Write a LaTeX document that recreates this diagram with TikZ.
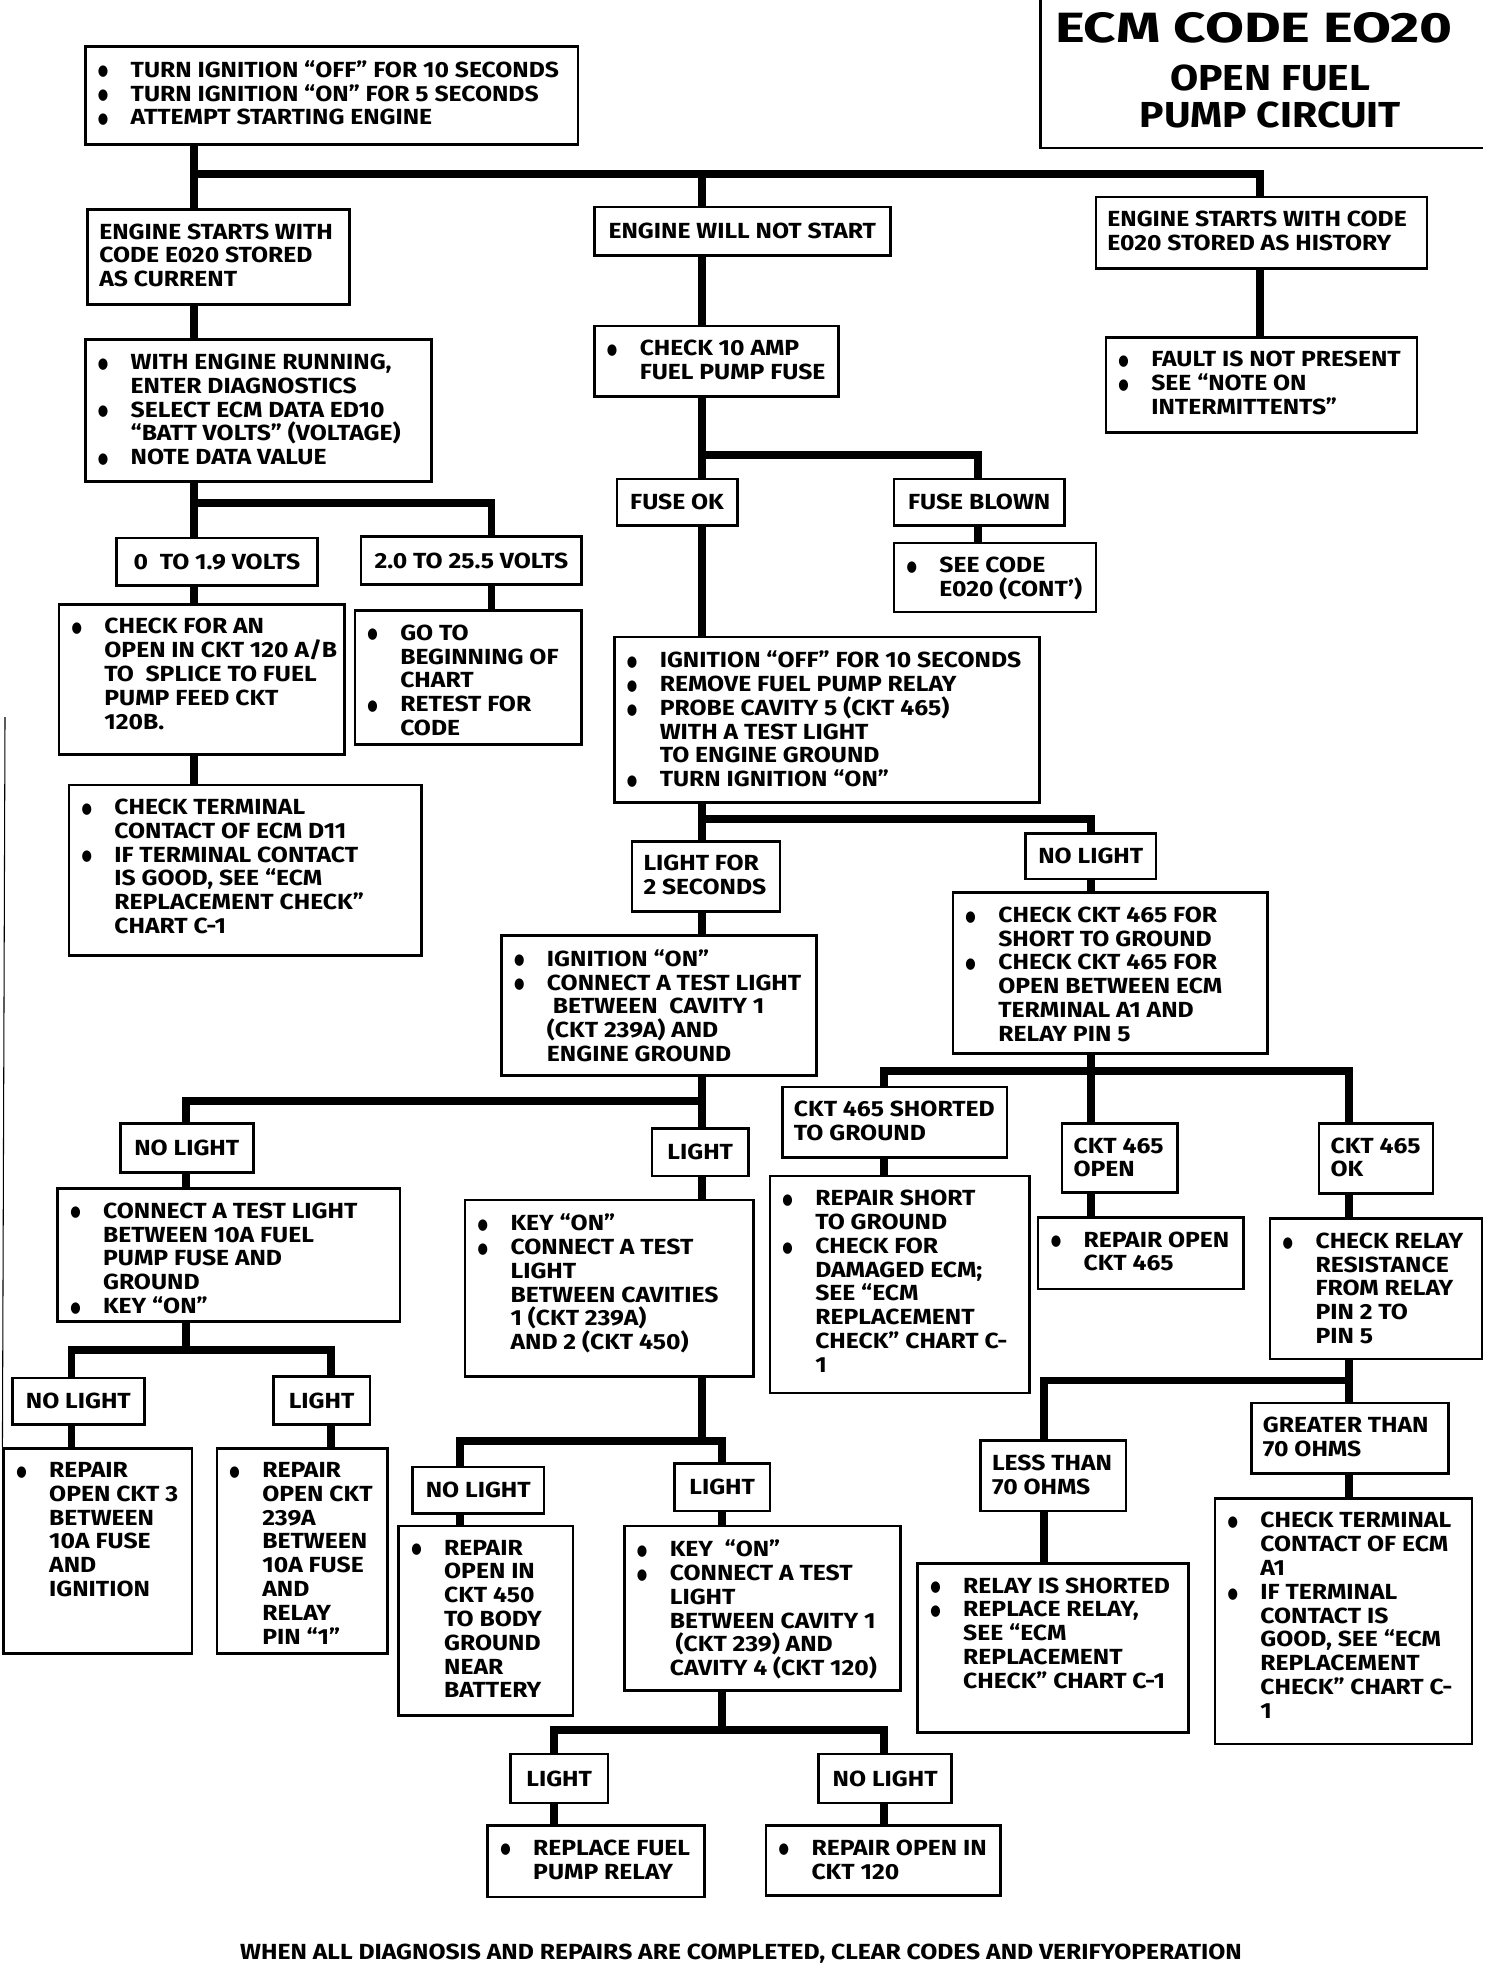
\documentclass[tikz,border=0pt]{standalone}
\usepackage{fontspec}
\setmainfont{Fira Sans}[FakeStretch=1.13]
\newfontfamily\dotfont{DejaVu Sans}
\usepackage{tikz}
\usetikzlibrary{fit}
\newcommand{\ecmfont}{\fontsize{12.4}{13.5}\selectfont\bfseries}
\newcommand{\ecmtitlefont}{\fontsize{24}{26}\selectfont\bfseries}
\newcommand{\ecmsubfont}{\fontsize{20.5}{21.3}\selectfont\bfseries}
\newcommand{\bitem}{\makebox[0.675cm][l]{\hspace{0.02cm}\raisebox{0.06em}{\scalebox{0.8}[1]{\dotfont\fontsize{8.5}{8.5}\selectfont ●}}}}
\newcommand{\bcont}{\hspace*{0.675cm}}
\tikzset{
  chart box/.style={draw,line width=1.5pt,inner sep=0pt},
  tag text/.style={label={[font=\ecmfont,inner sep=0pt]center:{#1}}},
  box text/.style={anchor=north west,align=left,inner xsep=0.25cm,inner ysep=0.3cm,font=\ecmfont},
  link/.style={line width=4.5pt}
}

\begin{document}
\begin{tikzpicture}[x=0.025cm,y=-0.025cm]
\fill[white] (0,0) rectangle (1200,1568);
\useasboundingbox (0,0) rectangle (1200,1568);

% title
\draw[line width=1.5pt] (830,0) -- (830,118) -- (1183,118);
\node[font=\ecmtitlefont] (title) at (1000,22) {\scalebox{1.18}[1]{ECM CODE EO20}};
\node[font=\ecmsubfont,align=center] (subtitle) at (1013,77) {OPEN FUEL\\PUMP CIRCUIT};

% boxes
\node[chart box,fit={(68,37) (461,115)},label={[box text]north west:{\bitem TURN IGNITION ``OFF'' FOR 10 SECONDS\\\bitem TURN IGNITION ``ON'' FOR 5 SECONDS\\\bitem ATTEMPT STARTING ENGINE}}] (start) {};
\node[chart box,fit={(70,167) (279,243)},label={[box text]north west:{ENGINE STARTS WITH\\CODE E020 STORED\\AS CURRENT}}] (current) {};
\node[chart box,fit={(474,165) (710,204)},tag text={ENGINE WILL NOT START}] (nostart) {};
\node[chart box,fit={(874,157) (1138,214)},label={[box text]north west:{ENGINE STARTS WITH CODE\\E020 STORED AS HISTORY}}] (history) {};
\node[chart box,fit={(68,271) (344,384)},label={[box text]north west:{\bitem WITH ENGINE RUNNING,\\\bcont ENTER DIAGNOSTICS\\\bitem SELECT ECM DATA ED10\\\bcont ``BATT VOLTS'' (VOLTAGE)\\\bitem NOTE DATA VALUE}}] (diag) {};
\node[chart box,fit={(474,260) (669,316)},label={[box text]north west:{\bitem CHECK 10 AMP\\\bcont FUEL PUMP FUSE}}] (fusecheck) {};
\node[chart box,fit={(882,269) (1130,345)},label={[box text]north west:{\bitem FAULT IS NOT PRESENT\\\bitem SEE ``NOTE ON\\\bcont INTERMITTENTS''}}] (intermit) {};
\node[chart box,fit={(93,429) (253,467)},tag text={0~~TO 1.9 VOLTS}] (lowvolt) {};
\node[chart box,fit={(288,428) (464,466)},tag text={2.0 TO 25.5 VOLTS}] (highvolt) {};
\node[chart box,fit={(492,382) (588,419)},tag text={FUSE OK}] (fuseok) {};
\node[chart box,fit={(713,382) (849,419)},tag text={FUSE BLOWN}] (fuseblown) {};
\node[chart box,fit={(713,433) (874,488)},label={[box text]north west:{\bitem SEE CODE\\\bcont E020 (CONT')}}] (seecode) {};
\node[chart box,fit={(47,482) (275,602)},label={[box text]north west:{\bitem CHECK FOR AN\\\bcont OPEN IN CKT 120 A/B\\\bcont TO~ SPLICE TO FUEL\\\bcont PUMP FEED CKT\\\bcont 120B.}}] (openab) {};
\node[chart box,fit={(283,487) (464,594)},label={[box text]north west:{\bitem GO TO\\\bcont BEGINNING OF\\\bcont CHART\\\bitem RETEST FOR\\\bcont CODE}}] (retest) {};
\node[chart box,fit={(55,626) (336,762)},label={[box text]north west:{\bitem CHECK TERMINAL\\\bcont CONTACT OF ECM D11\\\bitem IF TERMINAL CONTACT\\\bcont IS GOOD, SEE ``ECM\\\bcont REPLACEMENT CHECK''\\\bcont CHART C-1}}] (termdeleven) {};
\node[chart box,fit={(490,508) (829,640)},label={[box text]north west:{\bitem IGNITION ``OFF'' FOR 10 SECONDS\\\bitem REMOVE FUEL PUMP RELAY\\\bitem PROBE CAVITY 5 (CKT 465)\\\bcont WITH A TEST LIGHT\\\bcont TO ENGINE GROUND\\\bitem TURN IGNITION ``ON''}}] (proberelay) {};
\node[chart box,fit={(504,671) (622,727)},label={[box text]north west:{LIGHT FOR\\2 SECONDS}}] (lighttwo) {};
\node[chart box,fit={(818,665) (922,701)},tag text={NO LIGHT}] (nolighta) {};
\node[chart box,fit={(400,746) (651,858)},label={[box text]north west:{\bitem IGNITION ``ON''\\\bitem CONNECT A TEST LIGHT\\\bcont ~BETWEEN~ CAVITY 1\\\bcont (CKT 239A) AND\\\bcont ENGINE GROUND}}] (cavone) {};
\node[chart box,fit={(760,712) (1011,840)},label={[box text]north west:{\bitem CHECK CKT 465 FOR\\\bcont SHORT TO GROUND\\\bitem CHECK CKT 465 FOR\\\bcont OPEN BETWEEN ECM\\\bcont TERMINAL A1 AND\\\bcont RELAY PIN 5}}] (ckt465) {};
\node[chart box,fit={(96,896) (202,935)},tag text={NO LIGHT}] (nolightb) {};
\node[chart box,fit={(520,900) (597,938)},tag text={LIGHT}] (lightb) {};
\node[chart box,fit={(624,867) (803,923)},label={[box text]north west:{CKT 465 SHORTED\\TO GROUND}}] (shorted) {};
\node[chart box,fit={(847,896) (939,951)},label={[box text]north west:{CKT 465\\OPEN}}] (opened) {};
\node[chart box,fit={(1052,896) (1143,952)},label={[box text]north west:{CKT 465\\OK}}] (cktok) {};
\node[chart box,fit={(46,948) (319,1054)},label={[box text]north west:{\bitem CONNECT A TEST LIGHT\\\bcont BETWEEN 10A FUEL\\\bcont PUMP FUSE AND\\\bcont GROUND\\\bitem KEY ``ON''}}] (fuseground) {};
\node[chart box,fit={(371,957) (601,1098)},label={[box text]north west:{\bitem KEY ``ON''\\\bitem CONNECT A TEST\\\bcont LIGHT\\\bcont BETWEEN CAVITIES\\\bcont 1 (CKT 239A)\\\bcont AND 2 (CKT 450)}}] (cavtwo) {};
\node[chart box,fit={(614,938) (821,1111)},label={[box text]north west:{\bitem REPAIR SHORT\\\bcont TO GROUND\\\bitem CHECK FOR\\\bcont DAMAGED ECM;\\\bcont SEE ``ECM\\\bcont REPLACEMENT\\\bcont CHECK'' CHART C-\\\bcont 1}}] (repshort) {};
\node[chart box,fit={(828,971) (992,1028)},label={[box text]north west:{\bitem REPAIR OPEN\\\bcont CKT 465}}] (repopen) {};
\node[chart box,fit={(1013,972) (1182,1084)},label={[box text]north west:{\bitem CHECK RELAY\\\bcont RESISTANCE\\\bcont FROM RELAY\\\bcont PIN 2 TO\\\bcont PIN 5}}] (relayres) {};
\node[chart box,fit={(10,1099) (115,1136)},tag text={NO LIGHT}] (nolightc) {};
\node[chart box,fit={(218,1098) (295,1136)},tag text={LIGHT}] (lightc) {};
\node[chart box,fit={(3,1155) (153,1319)},label={[box text]north west:{\bitem REPAIR\\\bcont OPEN CKT 3\\\bcont BETWEEN\\\bcont 10A FUSE\\\bcont AND\\\bcont IGNITION}}] (repckt3) {};
\node[chart box,fit={(173,1155) (309,1319)},label={[box text]north west:{\bitem REPAIR\\\bcont OPEN CKT\\\bcont 239A\\\bcont BETWEEN\\\bcont 10A FUSE\\\bcont AND\\\bcont RELAY\\\bcont PIN ``1''}}] (repckt239) {};
\node[chart box,fit={(998,1119) (1155,1175)},label={[box text]north west:{GREATER THAN\\70 OHMS}}] (greater) {};
\node[chart box,fit={(782,1149) (898,1205)},label={[box text]north west:{LESS THAN\\70 OHMS}}] (less) {};
\node[chart box,fit={(329,1170) (434,1207)},tag text={NO LIGHT}] (nolightd) {};
\node[chart box,fit={(538,1167) (614,1205)},tag text={LIGHT}] (lightd) {};
\node[chart box,fit={(318,1217) (457,1368)},label={[box text]north west:{\bitem REPAIR\\\bcont OPEN IN\\\bcont CKT 450\\\bcont TO BODY\\\bcont GROUND\\\bcont NEAR\\\bcont BATTERY}}] (repckt450) {};
\node[chart box,fit={(498,1217) (718,1348)},label={[box text]north west:{\bitem KEY~ ``ON''\\\bitem CONNECT A TEST\\\bcont LIGHT\\\bcont BETWEEN CAVITY 1\\\bcont ~(CKT 239) AND\\\bcont CAVITY 4 (CKT 120)}}] (cavfour) {};
\node[chart box,fit={(732,1247) (948,1382)},label={[box text]north west:{\bitem RELAY IS SHORTED\\\bitem REPLACE RELAY,\\\bcont SEE ``ECM\\\bcont REPLACEMENT\\\bcont CHECK'' CHART C-1}}] (relayshort) {};
\node[chart box,fit={(969,1195) (1174,1391)},label={[box text]north west:{\bitem CHECK TERMINAL\\\bcont CONTACT OF ECM\\\bcont A1\\\bitem IF TERMINAL\\\bcont CONTACT IS\\\bcont GOOD, SEE ``ECM\\\bcont REPLACEMENT\\\bcont CHECK'' CHART C-\\\bcont 1}}] (terma1) {};
\node[chart box,fit={(407,1399) (485,1438)},tag text={LIGHT}] (lighte) {};
\node[chart box,fit={(653,1399) (759,1438)},tag text={NO LIGHT}] (nolighte) {};
\node[chart box,fit={(389,1456) (562,1513)},label={[box text]north west:{\bitem REPLACE FUEL\\\bcont PUMP RELAY}}] (replrelay) {};
\node[chart box,fit={(611,1456) (798,1512)},label={[box text]north west:{\bitem REPAIR OPEN IN\\\bcont CKT 120}}] (repckt120) {};

% split points
\coordinate (s0) at (155,139); \coordinate (s0b) at (560,139); \coordinate (s0c) at (1005,139);
\coordinate (s1) at (155,401); \coordinate (s1b) at (392,401);
\coordinate (s2) at (560,363); \coordinate (s2b) at (780,363);
\coordinate (s3) at (560,653); \coordinate (s3b) at (870,653);
\coordinate (s4) at (560,878); \coordinate (s4a) at (148,878);
\coordinate (s5) at (870,854); \coordinate (s5a) at (705,854); \coordinate (s5c) at (1076,854);
\coordinate (s6) at (148,1077); \coordinate (s6a) at (57,1077); \coordinate (s6b) at (264,1077);
\coordinate (s7) at (560,1149); \coordinate (s7a) at (367,1149); \coordinate (s7b) at (576,1149);
\coordinate (s8) at (576,1380); \coordinate (s8a) at (442,1380); \coordinate (s8b) at (705,1380);
\coordinate (s9) at (1076,1101); \coordinate (s9a) at (833,1101);

% connectors
\draw[link] (start.south -| s0) -- (current.north -| s0);
\draw[link] (s0) -- (s0c) -- (history.north -| s0c);
\draw[link] (s0b) -- (nostart.north -| s0b);
\draw[link] (history.south -| s0c) -- (intermit.north -| s0c);
\draw[link] (current.south -| s0) -- (diag.north -| s0);
\draw[link] (diag.south -| s1) -- (lowvolt.north -| s1);
\draw[link] (s1) -- (s1b) -- (highvolt.north -| s1b);
\draw[link] (lowvolt.south -| s1) -- (openab.north -| s1);
\draw[link] (openab.south -| s1) -- (termdeleven.north -| s1);
\draw[link] (highvolt.south -| s1b) -- (retest.north -| s1b);
\draw[link] (nostart.south -| s2) -- (fusecheck.north -| s2);
\draw[link] (fusecheck.south -| s2) -- (fuseok.north -| s2);
\draw[link] (s2) -- (s2b) -- (fuseblown.north -| s2b);
\draw[link] (fuseblown.south -| s2b) -- (seecode.north -| s2b);
\draw[link] (fuseok.south -| s2) -- (proberelay.north -| s2);
\draw[link] (proberelay.south -| s3) -- (lighttwo.north -| s3);
\draw[link] (s3) -- (s3b) -- (nolighta.north -| s3b);
\draw[link] (lighttwo.south -| s3) -- (cavone.north -| s3);
\draw[link] (nolighta.south -| s3b) -- (ckt465.north -| s3b);
\draw[link] (cavone.south -| s4) -- (lightb.north -| s4);
\draw[link] (s4) -- (s4a) -- (nolightb.north -| s4a);
\draw[link] (ckt465.south -| s5) -- (opened.north -| s5);
\draw[link] (shorted.north -| s5a) -- (s5a) -- (s5c) -- (cktok.north -| s5c);
\draw[link] (shorted.south -| s5a) -- (repshort.north -| s5a);
\draw[link] (opened.south -| s5) -- (repopen.north -| s5);
\draw[link] (cktok.south -| s5c) -- (relayres.north -| s5c);
\draw[link] (nolightb.south -| s6) -- (fuseground.north -| s6);
\draw[link] (fuseground.south -| s6) -- (s6);
\draw[link] (nolightc.north -| s6a) -- (s6a) -- (s6b) -- (lightc.north -| s6b);
\draw[link] (nolightc.south -| s6a) -- (repckt3.north -| s6a);
\draw[link] (lightc.south -| s6b) -- (repckt239.north -| s6b);
\draw[link] (lightb.south -| s7) -- (cavtwo.north -| s7);
\draw[link] (cavtwo.south -| s7) -- (s7);
\draw[link] (nolightd.north -| s7a) -- (s7a) -- (s7b) -- (lightd.north -| s7b);
\draw[link] (nolightd.south -| s7a) -- (repckt450.north -| s7a);
\draw[link] (lightd.south -| s7b) -- (cavfour.north -| s7b);
\draw[link] (cavfour.south -| s8) -- (s8);
\draw[link] (lighte.north -| s8a) -- (s8a) -- (s8b) -- (nolighte.north -| s8b);
\draw[link] (lighte.south -| s8a) -- (replrelay.north -| s8a);
\draw[link] (nolighte.south -| s8b) -- (repckt120.north -| s8b);
\draw[link] (relayres.south -| s9) -- (greater.north -| s9);
\draw[link] (s9) -- (s9a) -- (less.north -| s9a);
\draw[link] (greater.south -| s9) -- (terma1.north -| s9);
\draw[link] (less.south -| s9a) -- (relayshort.north -| s9a);

% stray edge line at the left
\draw[line width=0.6pt] (4,572) -- (repckt3.north west);

\node[font=\ecmfont] (footer) at (591,1558) {WHEN ALL DIAGNOSIS AND REPAIRS ARE COMPLETED, CLEAR CODES AND VERIFYOPERATION};
\end{tikzpicture}
\end{document}
